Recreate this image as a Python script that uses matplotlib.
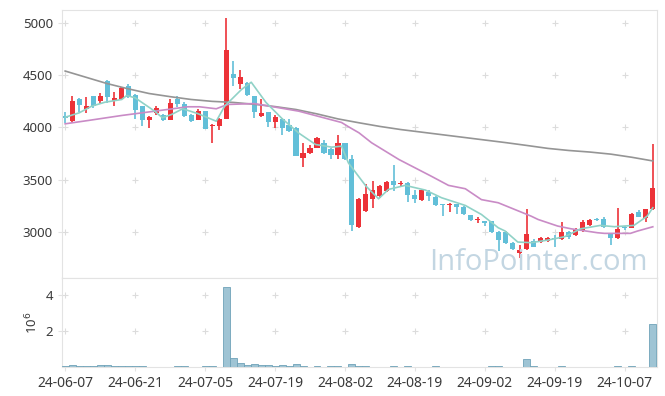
import matplotlib
matplotlib.use('Agg')
import matplotlib.pyplot as plt
import numpy as np
import pandas as pd

plt.rcParams['font.family'] = ['Noto Sans', 'DejaVu Sans']

# KRX trading days (weekends + market holidays skipped)
holidays = ['2024-08-15', '2024-09-16', '2024-09-17', '2024-09-18',
            '2024-10-01', '2024-10-03', '2024-10-09']
dates = pd.bdate_range('2024-06-07', '2024-10-14', freq='C', holidays=holidays)

opens = [4110, 4060, 4277, 4175, 4306, 4252, 4449, 4250, 4274, 4401,
         4315, 4204, 4070, 4143, 4124, 4076, 4274, 4226, 4124, 4076,
         4156, 4010, 4012, 4083, 4507, 4420, 4427, 4306, 4108, 4146,
         4051, 4083, 4019, 3997, 3704, 3758, 3806, 3854, 3796, 3732,
         3847, 3701, 3051, 3200, 3312, 3343, 3391, 3487, 3455, 3465,
         3350, 3305, 3382, 3337, 3264, 3261, 3264, 3242, 3159, 3114,
         3104, 3104, 2999, 2999, 2898, 2802, 2834, 2913, 2904, 2913,
         2945, 2929, 2999, 2967, 3009, 3063, 3127, 3127, 2993, 2939,
         3051, 3041, 3190, 3137, 3216]
highs = [4146, 4306, 4280, 4296, 4306, 4332, 4455, 4338, 4390, 4420,
         4325, 4204, 4108, 4204, 4130, 4268, 4306, 4240, 4130, 4180,
         4160, 4029, 4090, 5049, 4634, 4554, 4435, 4306, 4268, 4150,
         4115, 4093, 4083, 4000, 3847, 3830, 3910, 3880, 3800, 3924,
         3850, 3732, 3330, 3455, 3487, 3450, 3490, 3637, 3490, 3480,
         3400, 3410, 3400, 3345, 3268, 3280, 3270, 3250, 3162, 3140,
         3104, 3110, 3010, 3005, 2905, 2872, 3216, 2930, 2950, 2950,
         2967, 3095, 3005, 3040, 3115, 3120, 3130, 3140, 2995, 3232,
         3060, 3185, 3215, 3220, 3840]
lows = [4045, 4048, 4150, 4134, 4185, 4220, 4236, 4204, 4265, 4280,
        4080, 4010, 3997, 4115, 4065, 4070, 4200, 4100, 4050, 4070,
        3985, 3854, 3974, 4083, 4401, 4370, 4300, 4093, 4100, 4007,
        3997, 3924, 3960, 3726, 3624, 3750, 3800, 3750, 3694, 3701,
        3690, 3009, 3040, 3190, 3232, 3330, 3385, 3391, 3440, 3290,
        3280, 3300, 3300, 3250, 3152, 3190, 3170, 3160, 3110, 3090,
        3060, 2990, 2817, 2890, 2825, 2754, 2830, 2855, 2895, 2905,
        2860, 2920, 2935, 2960, 3000, 3055, 3110, 3040, 2872, 2935,
        3020, 3035, 3140, 3100, 3210]
closes = [4095, 4258, 4213, 4203, 4204, 4306, 4293, 4278, 4380, 4293,
          4170, 4070, 4102, 4182, 4076, 4236, 4220, 4108, 4060, 4156,
          3987, 4020, 4083, 4739, 4475, 4484, 4315, 4146, 4134, 4051,
          4098, 3997, 3965, 3726, 3758, 3806, 3904, 3758, 3732, 3854,
          3694, 3063, 3312, 3360, 3398, 3439, 3481, 3446, 3471, 3350,
          3318, 3401, 3343, 3254, 3254, 3271, 3242, 3168, 3114, 3127,
          3082, 2999, 2923, 2898, 2834, 2827, 2977, 2860, 2945, 2945,
          2929, 2999, 2955, 3031, 3095, 3114, 3114, 3051, 2939, 3031,
          3041, 3168, 3146, 3216, 3424]
volumes = [0.05, 0.13, 0.05, 0.05, 0.05, 0.13, 0.13, 0.05, 0.05, 0.05,
           0.05, 0.05, 0.003, 0.003, 0.003, 0.003, 0.05, 0.05, 0.003, 0.003,
           0.05, 0.05, 0.003, 4.45, 0.51, 0.24, 0.13, 0.18, 0.13, 0.13,
           0.07, 0.13, 0.07, 0.18, 0.07, 0.003, 0.05, 0.003, 0.05, 0.05,
           0.003, 0.18, 0.05, 0.05, 0.003, 0.003, 0.003, 0.05, 0.003, 0.05,
           0.003, 0.003, 0.003, 0.05, 0.003, 0.003, 0.003, 0.003, 0.003, 0.003,
           0.003, 0.05, 0.05, 0.003, 0.003, 0.003, 0.42, 0.05, 0.003, 0.003,
           0.003, 0.05, 0.003, 0.003, 0.003, 0.003, 0.003, 0.003, 0.003, 0.05,
           0.003, 0.05, 0.003, 0.003, 2.36]

# moving averages (day index, price)
ma_short_x = [0, 2, 3.8, 5.7, 8.1, 8.8, 10, 12.8, 13.9, 15.2, 16.8, 18.9, 21.6,
              22.8, 25.2, 26.6, 28.7, 31, 33.4, 35.8, 38.1, 39.5, 40.5, 43,
              44.8, 46.2, 48.6, 51.5, 53.8, 57.2, 59.5, 61.9, 62.9, 64.7,
              66.6, 69, 71.4, 73.7, 76.5, 78.5, 81.3, 83.2, 84]
ma_short_y = [4098, 4140, 4204, 4242, 4268, 4306, 4284, 4156, 4093, 4124, 4179,
              4134, 4060, 4204, 4363, 4433, 4240, 4085, 3946, 3837, 3812, 3821,
              3660, 3439, 3318, 3407, 3446, 3401, 3328, 3254, 3168, 3041, 3009,
              2904, 2898, 2923, 2955, 3031, 3063, 3051, 3063, 3152, 3232]
ma_mid_x = [0, 3.3, 8.1, 12.8, 17.5, 19.2, 21.6, 23.2, 27, 28.7, 33.4, 39.5,
            40.5, 42, 43.8, 47.7, 52.3, 54.8, 57.2, 59.5, 61.9, 66.6, 67.6,
            70.4, 72.3, 76.1, 77.1, 80.8, 81.8, 84]
ma_mid_y = [4035, 4067, 4115, 4156, 4198, 4198, 4179, 4220, 4229, 4210, 4156,
            4048, 4007, 3949, 3854, 3694, 3535, 3446, 3414, 3310, 3280, 3152,
            3120, 3057, 3031, 2993, 2987, 2987, 3009, 3050]
ma_long_x = [0, 3, 6, 9, 12, 15, 18, 21, 24, 27, 30, 33, 36, 39, 42, 45, 48,
             51, 54, 57, 60, 63, 66, 69, 72, 75, 78, 81, 84]
ma_long_y = [4540, 4480, 4420, 4370, 4325, 4295, 4268, 4250, 4240, 4222, 4200,
             4172, 4130, 4082, 4045, 4010, 3980, 3955, 3930, 3905, 3880, 3855,
             3828, 3800, 3780, 3765, 3745, 3715, 3680]

UP = '#ec3238'
DOWN = '#62bfd8'
GRID = '#dcdcdc'
SPINE = '#e3e3e3'
TXT = '#3a3a3a'

fig = plt.figure(figsize=(6.65, 3.96), dpi=100)
ax = fig.add_axes([62/665, 1 - 278/396, 595/665, 268/396])
axv = fig.add_axes([62/665, 1 - 367/396, 595/665, 89/396], sharex=ax)

idx = np.arange(len(dates))
o = np.array(opens); c = np.array(closes)
h = np.array(highs); l = np.array(lows)
colors = [UP if cc >= oo else DOWN for oo, cc in zip(o, c)]

ax.vlines(idx, l, h, colors=colors, linewidth=1.2, zorder=3)
body_lo = np.minimum(o, c)
body_h = np.maximum(np.abs(c - o), 8)
ax.bar(idx, body_h, bottom=body_lo, width=0.72, color=colors, linewidth=0, zorder=4)

ax.plot(ma_long_x, ma_long_y, color='#959595', linewidth=1.2, zorder=5)
ax.plot(ma_mid_x, ma_mid_y, color='#c98bc6', linewidth=1.2, zorder=5)
ax.plot(ma_short_x, ma_short_y, color='#90d2c7', linewidth=1.2, zorder=5)

xt = idx[::10]
yt = [3000, 3500, 4000, 4500, 5000]
ax.set_xlim(-0.45, 84.6)
ax.set_ylim(2560, 5124)
ax.set_yticks(yt)
ax.set_yticklabels([str(v) for v in yt])
gx, gy = np.meshgrid(xt, yt)
ax.scatter(gx.ravel(), gy.ravel(), marker='+', s=22, color=GRID, linewidths=0.8, zorder=1)

ax.text(0.985, 0.03, 'InfoPointer.com', transform=ax.transAxes, ha='right',
        va='baseline', fontsize=21, color='#c3d6e2', family='Open Sans', zorder=6)

vol = np.array(volumes) * 1e6
axv.bar(idx, vol, width=1.0, color='#9fc4d4', edgecolor='#6fa2b8', linewidth=0.6, zorder=3)
axv.set_ylim(0, 4.94e6)
axv.set_yticks([2e6, 4e6])
axv.set_yticklabels(['2', '4'])
axv.set_ylabel('10$^6$', fontsize=9.5, color=TXT, labelpad=4)
gx, gy = np.meshgrid(xt, [2e6, 4e6])
axv.scatter(gx.ravel(), gy.ravel(), marker='+', s=22, color=GRID, linewidths=0.8, zorder=1)

axv.set_xticks(xt)
axv.set_xticklabels([d.strftime('%y-%m-%d') for d in dates[::10]])
plt.setp(ax.get_xticklabels(), visible=False)

for a in (ax, axv):
    for s in a.spines.values():
        s.set_color(SPINE)
        s.set_linewidth(0.8)
    a.tick_params(colors=SPINE, labelcolor=TXT, labelsize=9.5, length=3, width=0.8)
ax.tick_params(axis='x', length=0)
axv.tick_params(axis='x', labelsize=10)

fig.savefig('out.png', dpi=100)
